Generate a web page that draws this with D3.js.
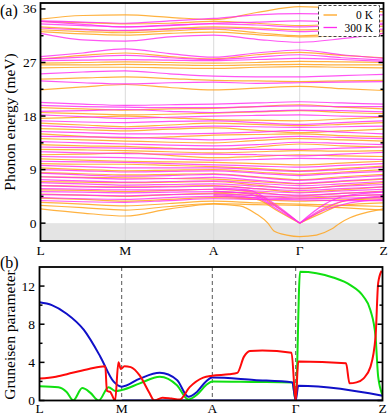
<!DOCTYPE html>
<html>
<head>
<meta charset="utf-8">
<script src="https://cdn.jsdelivr.net/npm/d3@7"></script>
<style>
  body { margin: 0; background: #fff; }
  svg { display: block; }
</style>
</head>
<body>
<div id="chart"></div>
<script>
// k-path: L, M, A, Γ, Z
const kLabels = ["L", "M", "A", "Γ", "Z"];
const kGrid = [0, 0.5, 1, 1.5, 2, 2.5, 3, 3.5, 4];

const energyTicks = [0, 9, 18, 27, 36];
const gruneisenTicks = [0, 4, 8, 12];

// phonon bands, 0 K (values at kGrid, meV)
const bands0K = [
  [34.3, 34.9, 35.0, 34.6, 34.2, 35.4, 36.4, 36.1, 35.5],
  [33.9, 33.7, 33.5, 33.6, 33.9, 33.6, 33.2, 33.5, 34.0],
  [33.0, 32.6, 32.3, 32.7, 33.0, 32.8, 32.5, 32.7, 33.1],
  [32.5, 32.2, 32.0, 32.3, 32.6, 32.0, 31.5, 31.8, 32.3],
  [32.2, 31.8, 31.6, 31.9, 32.1, 31.7, 31.3, 31.5, 31.9],
  [27.6, 28.2, 28.6, 28.0, 27.6, 28.3, 28.7, 28.2, 27.8],
  [26.9, 27.0, 27.1, 27.0, 26.9, 27.0, 27.2, 27.1, 27.0],
  [26.6, 26.6, 26.7, 26.6, 26.5, 26.6, 26.7, 26.6, 26.6],
  [26.1, 26.2, 26.2, 26.1, 26.0, 26.2, 26.3, 26.2, 26.1],
  [24.2, 24.4, 24.6, 24.3, 24.0, 23.9, 23.8, 23.9, 24.0],
  [22.4, 22.9, 23.3, 22.8, 22.4, 22.7, 23.0, 22.6, 22.3],
  [19.4, 19.2, 19.0, 19.2, 19.3, 19.6, 19.9, 19.5, 19.2],
  [18.6, 18.4, 18.2, 18.3, 18.5, 18.7, 18.9, 18.6, 18.4],
  [17.6, 17.8, 18.0, 17.7, 17.4, 17.3, 17.2, 17.5, 17.8],
  [16.8, 16.5, 16.2, 16.5, 16.8, 16.6, 16.4, 16.6, 16.9],
  [15.9, 15.7, 15.5, 15.8, 16.0, 15.6, 15.2, 15.5, 15.8],
  [15.0, 14.6, 14.3, 14.5, 14.8, 14.9, 15.0, 14.7, 14.5],
  [14.2, 14.0, 13.8, 13.6, 13.5, 13.9, 14.2, 14.0, 13.8],
  [13.2, 13.0, 12.9, 12.6, 12.4, 12.8, 13.3, 13.0, 12.8],
  [12.4, 12.3, 12.2, 12.0, 11.8, 12.0, 12.2, 12.1, 12.2],
  [11.5, 11.6, 11.8, 11.4, 11.0, 11.2, 11.5, 11.3, 11.2],
  [10.8, 10.6, 10.4, 10.3, 10.2, 10.0, 9.8, 10.1, 10.4],
  [10.0, 9.9, 9.9, 9.7, 9.5, 9.2, 8.8, 9.2, 9.6],
  [9.3, 9.0, 8.8, 8.9, 9.0, 8.6, 8.2, 8.6, 9.0],
  [8.5, 8.3, 8.1, 8.2, 8.3, 7.8, 7.3, 7.8, 8.2],
  [7.8, 7.7, 7.6, 7.5, 7.4, 7.0, 6.6, 7.0, 7.4],
  [7.0, 6.9, 6.8, 6.9, 7.0, 6.4, 5.8, 6.3, 6.8],
  [6.3, 6.2, 6.1, 6.2, 6.3, 5.8, 5.2, 5.6, 6.1],
  [5.6, 5.5, 5.3, 5.5, 5.7, 5.2, 4.6, 5.0, 5.4],
  [4.9, 4.7, 4.5, 4.8, 5.0, 4.6, 4.2, 4.5, 4.8],
  [4.2, 4.0, 3.7, 4.0, 4.3, 4.0, 3.7, 3.9, 4.1],
  [3.5, 3.2, 2.9, 3.3, 3.7, 3.4, 3.2, 3.0, 2.8],
  [3.0, 2.6, 2.2, 2.8, 3.3, 3.1, 3.0, 2.6, 2.2]
];

// phonon bands, 300 K (values at kGrid, meV)
const bands300K = [
  [34.0, 33.8, 33.6, 34.0, 34.4, 35.0, 35.2, 35.1, 35.0],
  [33.9, 33.4, 33.0, 33.2, 33.6, 33.8, 34.0, 33.8, 33.6],
  [33.5, 33.2, 33.0, 33.3, 33.5, 33.3, 33.0, 33.2, 33.4],
  [32.8, 32.5, 32.4, 32.6, 32.8, 32.6, 32.2, 32.4, 32.6],
  [31.9, 30.8, 30.6, 31.3, 31.6, 30.9, 30.4, 31.0, 31.9],
  [28.0, 28.6, 29.3, 28.5, 27.9, 28.6, 29.1, 28.3, 27.7],
  [27.6, 27.9, 28.2, 27.8, 27.5, 27.9, 28.3, 27.8, 27.4],
  [27.3, 27.4, 27.5, 27.4, 27.3, 27.5, 27.7, 27.5, 27.2],
  [25.1, 25.4, 25.6, 25.1, 24.7, 24.6, 24.6, 24.8, 25.0],
  [23.9, 23.6, 23.4, 23.6, 23.7, 23.5, 23.6, 23.7, 23.8],
  [20.3, 20.0, 19.8, 19.9, 20.0, 20.2, 20.4, 20.2, 20.0],
  [19.8, 19.6, 19.5, 19.4, 19.4, 19.6, 19.7, 19.6, 19.6],
  [18.8, 18.9, 19.1, 18.8, 18.6, 18.8, 19.0, 18.9, 18.7],
  [18.2, 17.9, 17.6, 17.8, 18.0, 18.1, 18.2, 18.0, 17.9],
  [17.2, 17.0, 16.9, 17.1, 17.2, 16.9, 16.6, 16.9, 17.2],
  [16.4, 16.1, 15.9, 16.1, 16.3, 16.2, 16.1, 16.2, 16.3],
  [15.4, 15.2, 15.0, 15.0, 15.1, 15.3, 15.6, 15.3, 15.0],
  [14.6, 14.5, 14.4, 14.2, 14.0, 14.3, 14.6, 14.4, 14.2],
  [13.7, 13.5, 13.3, 13.1, 13.0, 13.2, 13.6, 13.4, 13.2],
  [12.8, 12.7, 12.6, 12.5, 12.5, 12.4, 12.4, 12.6, 12.8],
  [12.0, 11.8, 11.7, 11.6, 11.6, 11.5, 11.3, 11.6, 11.9],
  [11.2, 11.1, 11.0, 10.8, 10.6, 10.7, 10.9, 10.8, 10.7],
  [10.4, 10.3, 10.2, 10.0, 9.8, 9.6, 9.4, 9.7, 10.0],
  [9.7, 9.5, 9.3, 9.3, 9.3, 9.0, 8.7, 9.0, 9.4],
  [9.0, 8.8, 8.6, 8.7, 8.8, 8.4, 8.0, 8.4, 8.7],
  [8.4, 8.1, 7.9, 8.0, 8.2, 7.7, 7.2, 7.6, 8.0],
  [7.8, 7.6, 7.4, 7.5, 7.7, 7.2, 6.7, 7.1, 7.5],
  [7.3, 7.1, 6.9, 7.0, 7.1, 6.7, 6.3, 6.6, 7.0],
  [6.8, 6.6, 6.4, 6.5, 6.6, 6.2, 5.9, 6.2, 6.5],
  [6.3, 6.1, 6.0, 6.1, 6.2, 5.8, 5.5, 5.8, 6.1],
  [5.8, 5.7, 5.6, 5.6, 5.7, 5.4, 5.1, 5.4, 5.7],
  [5.3, 5.2, 5.1, 5.2, 5.3, 5.0, 4.7, 5.0, 5.3],
  [4.8, 4.7, 4.6, 4.8, 4.9, 4.6, 4.4, 4.6, 4.8],
  [4.3, 4.1, 4.0, 4.3, 4.5, 4.3, 4.1, 4.2, 4.3],
  [3.8, 3.6, 3.5, 3.8, 4.1, 4.0, 3.9, 3.8, 3.8]
];

// acoustic branches near Γ, [k, meV]
const acoustic0K = [
  [[0, 2.4], [0.5, 1.7], [1, 1.2], [1.5, 2.4], [2, 3.2], [2.3, 2.9], [2.5, 1.5], [2.63, 0], [2.7, -1.3],
   [2.85, -2.0], [3, -2.25], [3.2, -2.0], [3.38, -1.0], [3.48, 0], [3.6, 0.9], [3.8, 1.8], [4, 2.4]],
  [[2, 4.6], [2.5, 4.0], [2.75, 2.0], [3, 0], [3.25, 1.6], [3.5, 3.0], [4, 3.4]],
  [[2, 5.2], [2.45, 5.0], [2.75, 2.6], [3, 0], [3.25, 2.0], [3.5, 3.6], [4, 4.4]]
];
const acoustic300K = [
  [[2, 5.9], [2.4, 5.6], [2.7, 3.3], [3, 0], [3.3, 3.2], [3.55, 4.6], [4, 5.2]],
  [[2, 5.4], [2.45, 4.8], [2.72, 2.8], [3, 0], [3.3, 2.6], [3.55, 3.8], [4, 4.6]],
  [[2, 4.8], [2.5, 4.2], [2.75, 2.2], [3, 0], [3.3, 2.2], [3.6, 3.4], [4, 4.0]]
];

// Gruneisen parameter, [k, gamma]
const gammaBlue = [[0, 10.3], [0.15, 10.0], [0.33, 9.1], [0.54, 7.4], [0.74, 4.6], [0.9, 2.0], [1.0, 1.45],
  [1.2, 2.3], [1.42, 2.9], [1.61, 2.15], [1.735, 0.4], [1.83, 0.9], [1.93, 2.0], [2.0, 2.4], [2.5, 2.15],
  [2.96, 1.9], [3.0, 0], [3.03, 1.55], [4.0, 0.5]];
const gammaBlueZero = [[1.0, 0], [4.0, 0]];
const gammaRed = [[0, 2.3], [0.2, 2.5], [0.4, 2.9], [0.6, 3.3], [0.8, 3.6], [0.82, 1.0], [0.86, 0.9], [0.88, 0.6],
  [0.92, 0], [0.96, 4.0], [0.99, 3.3], [1.03, 3.6], [1.1, 3.5], [1.2, 2.6], [1.3, 0.9], [1.36, 0], [1.45, 0.3],
  [1.55, 0.2], [1.64, 0.1], [1.75, 1.4], [1.9, 2.4], [2.0, 2.6], [2.2, 2.75], [2.3, 2.9], [2.38, 4.6],
  [2.45, 5.2], [2.6, 5.25], [2.95, 5.0], [3.0, 0], [3.03, 4.1], [3.58, 3.9], [3.62, 1.8], [3.7, 1.9],
  [3.78, 2.3], [3.86, 3.5], [3.92, 6.7], [3.95, 12.3], [3.99, 13.6]];
const gammaGreen = [[0, 1.5], [0.23, 1.4], [0.33, 0.9], [0.41, 0], [0.52, 1.3], [0.62, 0.8], [0.72, 0],
  [0.84, 1.4], [0.92, 1.0], [1.0, 1.1], [1.2, 1.8], [1.42, 2.5], [1.61, 1.6], [1.735, 0.1], [1.83, 0.6],
  [1.93, 1.6], [2.0, 2.0], [2.5, 1.95], [2.96, 1.9], [3.0, 0], [3.05, 13.5], [3.43, 12.9], [3.63, 12.1],
  [3.78, 10.9], [3.86, 9.5], [3.92, 6.7], [3.95, 2.5], [4.0, 0.6]];

const orange = "#ffa41f";
const magenta = "#ff2bf0";
const font = "'Liberation Serif', 'Times New Roman', serif";

const svg = d3
  .select("#chart")
  .append("svg")
  .attr("width", 390)
  .attr("height", 416)
  .style("font-family", font);

// ---------- panel (a) ----------
const xa = d3.scaleLinear().domain([0, 1, 2, 3, 4]).range([40.5, 125.3, 213.7, 299.7, 383.5]);
const ya = d3.scaleLinear().domain([-3, 37]).range([241, 3]);

svg.append("clipPath").attr("id", "clipA")
  .append("rect")
  .attr("x", xa(0)).attr("y", ya(37))
  .attr("width", xa(4) - xa(0)).attr("height", ya(-3) - ya(37));

const gA = svg.append("g").attr("clip-path", "url(#clipA)");

gA.append("rect")
  .attr("x", xa(0)).attr("y", ya(0))
  .attr("width", xa(4) - xa(0)).attr("height", ya(-3) - ya(0))
  .attr("fill", "#e4e4e4");

gA.selectAll(".kline")
  .data([1, 2, 3])
  .enter()
  .append("line")
  .attr("x1", (d) => xa(d)).attr("x2", (d) => xa(d))
  .attr("y1", ya(37)).attr("y2", ya(-3))
  .attr("stroke", "#dadada")
  .attr("stroke-width", 1);

const bandLine = d3.line()
  .x((d) => xa(d[0]))
  .y((d) => ya(d[1]))
  .curve(d3.curveMonotoneX);

// acoustic modes that hit 0 at Γ are drawn as two pieces so the V stays sharp
function splitAtGamma(pts) {
  const g = pts.find((p) => p[0] === 3);
  if (g && g[1] === 0) {
    return [pts.filter((p) => p[0] <= 3), pts.filter((p) => p[0] >= 3)];
  }
  return [pts];
}

function drawBands(bands, acoustic, color, opacity) {
  const paths = bands.map((b) => b.map((v, i) => [kGrid[i], v]));
  acoustic.forEach((a) => splitAtGamma(a).forEach((p) => paths.push(p)));
  gA.append("g")
    .selectAll("path")
    .data(paths)
    .enter()
    .append("path")
    .attr("d", bandLine)
    .attr("fill", "none")
    .attr("stroke", color)
    .attr("stroke-opacity", opacity)
    .attr("stroke-width", 1.2);
}

drawBands(bands0K, acoustic0K, orange, 0.85);
drawBands(bands300K, acoustic300K, magenta, 0.8);

// frame
svg.append("rect")
  .attr("x", xa(0)).attr("y", ya(37))
  .attr("width", xa(4) - xa(0)).attr("height", ya(-3) - ya(37))
  .attr("fill", "none")
  .attr("stroke", "#000")
  .attr("stroke-width", 1.8);

// y ticks (both sides, inward)
const ticksA = [];
energyTicks.forEach((t) => {
  ticksA.push({ v: t, len: 5 });
  if (t + 4.5 < 37) ticksA.push({ v: t + 4.5, len: 3 });
});
[xa(0), xa(4)].forEach((x0, side) => {
  svg.append("g")
    .selectAll("line")
    .data(ticksA)
    .enter()
    .append("line")
    .attr("x1", x0)
    .attr("x2", (d) => (side === 0 ? x0 + d.len : x0 - d.len))
    .attr("y1", (d) => ya(d.v)).attr("y2", (d) => ya(d.v))
    .attr("stroke", "#000")
    .attr("stroke-width", 1.5);
});

svg.append("g")
  .selectAll("text")
  .data(energyTicks)
  .enter()
  .append("text")
  .attr("x", xa(0) - 4)
  .attr("y", (d) => ya(d) + 4.5)
  .attr("text-anchor", "end")
  .attr("font-size", 13.5)
  .text((d) => d);

svg.append("g")
  .selectAll("text")
  .data(kLabels)
  .enter()
  .append("text")
  .attr("x", (d, i) => xa(i))
  .attr("y", 255)
  .attr("text-anchor", "middle")
  .attr("font-size", 13.5)
  .text((d) => d);

svg.append("text")
  .attr("transform", "translate(15,122) rotate(-90)")
  .attr("text-anchor", "middle")
  .attr("font-size", 15.5)
  .text("Phonon energy (meV)");

svg.append("text")
  .attr("x", 0).attr("y", 16)
  .attr("font-size", 16)
  .text("(a)");

// legend
const legend = svg.append("g");
legend.append("rect")
  .attr("x", 318.5).attr("y", 5.5)
  .attr("width", 61).attr("height", 31)
  .attr("fill", "#fff")
  .attr("stroke", "#444")
  .attr("stroke-width", 1)
  .attr("stroke-dasharray", "3,2");
[
  { label: "0 K", color: orange, y: 15 },
  { label: "300 K", color: magenta, y: 27.5 }
].forEach((d) => {
  legend.append("line")
    .attr("x1", 323.5).attr("x2", 337)
    .attr("y1", d.y).attr("y2", d.y)
    .attr("stroke", d.color)
    .attr("stroke-width", 1.3);
  legend.append("text")
    .attr("x", 373).attr("y", d.y + 4)
    .attr("text-anchor", "end")
    .attr("font-size", 11.5)
    .text(d.label);
});

// ---------- panel (b) ----------
const xb = d3.scaleLinear().domain([0, 1, 2, 3, 4]).range([39.5, 121.7, 212.3, 295.7, 382.5]);
const yb = d3.scaleLinear().domain([0, 14]).range([400.5, 267]);

svg.append("clipPath").attr("id", "clipB")
  .append("rect")
  .attr("x", xb(0)).attr("y", yb(14))
  .attr("width", xb(4) - xb(0)).attr("height", yb(0) - yb(14));

const gB = svg.append("g").attr("clip-path", "url(#clipB)");

gB.selectAll(".kline")
  .data([1, 2, 3])
  .enter()
  .append("line")
  .attr("x1", (d) => xb(d)).attr("x2", (d) => xb(d))
  .attr("y1", yb(14)).attr("y2", yb(0))
  .attr("stroke", "#555")
  .attr("stroke-width", 1)
  .attr("stroke-dasharray", "4,3");

const gLine = d3.line()
  .x((d) => xb(d[0]))
  .y((d) => yb(d[1]))
  .curve(d3.curveMonotoneX);

[
  { data: gammaBlueZero, color: "#1010c8" },
  { data: gammaGreen, color: "#10e010" },
  { data: gammaBlue, color: "#1010c8" },
  { data: gammaRed, color: "#ff0a0a" }
].forEach((s) => {
  gB.append("path")
    .attr("d", gLine(s.data))
    .attr("fill", "none")
    .attr("stroke", s.color)
    .attr("stroke-width", 2);
});

svg.append("rect")
  .attr("x", xb(0)).attr("y", yb(14))
  .attr("width", xb(4) - xb(0)).attr("height", yb(0) - yb(14))
  .attr("fill", "none")
  .attr("stroke", "#000")
  .attr("stroke-width", 1.8);

const ticksB = [];
gruneisenTicks.forEach((t) => {
  ticksB.push({ v: t, len: 5 });
  if (t + 2 < 14) ticksB.push({ v: t + 2, len: 3 });
});
[xb(0), xb(4)].forEach((x0, side) => {
  svg.append("g")
    .selectAll("line")
    .data(ticksB)
    .enter()
    .append("line")
    .attr("x1", x0)
    .attr("x2", (d) => (side === 0 ? x0 + d.len : x0 - d.len))
    .attr("y1", (d) => yb(d.v)).attr("y2", (d) => yb(d.v))
    .attr("stroke", "#000")
    .attr("stroke-width", 1.5);
});

svg.append("g")
  .selectAll("text")
  .data(gruneisenTicks)
  .enter()
  .append("text")
  .attr("x", xb(0) - 4.5)
  .attr("y", (d) => yb(d) + 4.5)
  .attr("text-anchor", "end")
  .attr("font-size", 13.5)
  .text((d) => d);

svg.append("g")
  .selectAll("text")
  .data(kLabels)
  .enter()
  .append("text")
  .attr("x", (d, i) => xb(i))
  .attr("y", 413)
  .attr("text-anchor", "middle")
  .attr("font-size", 13.5)
  .text((d) => d);

svg.append("text")
  .attr("transform", "translate(15,335) rotate(-90)")
  .attr("text-anchor", "middle")
  .attr("font-size", 15.5)
  .text("Gruneisen parameter");

svg.append("text")
  .attr("x", 0).attr("y", 268)
  .attr("font-size", 16)
  .text("(b)");
</script>
</body>
</html>
